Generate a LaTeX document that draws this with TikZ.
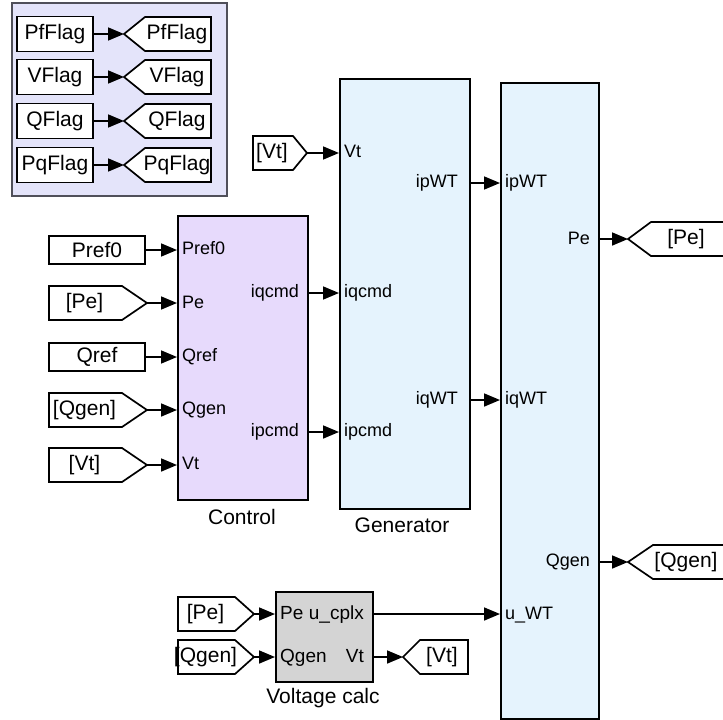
\documentclass[tikz,border=0pt]{standalone}
\usepackage{fontspec}
\setmainfont{Liberation Sans}
\usetikzlibrary{arrows.meta}
\definecolor{grpfill}{RGB}{228,228,250}
\definecolor{grpdraw}{RGB}{80,80,90}
\definecolor{ctrlfill}{RGB}{231,218,252}
\definecolor{genfill}{RGB}{229,243,253}
\definecolor{vcfill}{RGB}{212,212,212}
\newcommand{\FromTag}[6]{%
  \draw[tagbox] (#2,#5-17) -- (#3,#5-17) -- (#4,#5) -- (#3,#5+17) -- (#2,#5+17) -- cycle;
  \node[tagtxt] (#1) at ({(#2+#3)/2-1},#5) {#6};
  \coordinate (#1-tip) at (#4,#5);
}
\newcommand{\GotoTag}[7]{%
  \draw[tagbox] (#2,#5) -- (#3,#5-17) -- (#4,#5-17) -- (#4,#5+17) -- (#3,#5+17) -- cycle;
  \node[tagtxt] (#1) at (#6,#5) {#7};
  \coordinate (#1-tip) at (#2,#5);
}
\begin{document}
\begin{tikzpicture}[x=1pt,y=-1pt,
  blk/.style={draw=black,line width=1.7pt,rectangle,inner sep=0pt,anchor=north west},
  constbox/.style={draw=black,line width=1.7pt,fill=white,rectangle,inner sep=0pt,
     font=\fontsize{21}{24}\selectfont},
  tagbox/.style={draw=black,line width=1.7pt,fill=white,line join=miter},
  tagtxt/.style={inner sep=0pt,font=\fontsize{21}{24}\selectfont},
  inl/.style={inner sep=0pt,anchor=west,font=\fontsize{18}{20}\selectfont,text height=13pt,text depth=4pt},
  outl/.style={inner sep=0pt,anchor=east,font=\fontsize{18}{20}\selectfont,text height=13pt,text depth=4pt},
  vcl/.style={inner sep=0pt,font=\fontsize{19}{21}\selectfont,text height=14pt,text depth=4pt},
  bname/.style={inner sep=0pt,font=\fontsize{21}{24}\selectfont},
  sig/.style={draw=black,line width=1.7pt,-{Triangle[length=16pt,width=13pt]}}
]
\clip (0,0) rectangle (723,720);

% ---------- flag group ----------
\node[draw=grpdraw,line width=1.7pt,fill=grpfill,inner sep=0pt,anchor=north west,
  minimum width=215pt,minimum height=193pt] (grp) at (11,2) {};
\node[constbox,minimum width=76pt,minimum height=35pt] (pf) at (55,34) {PfFlag};
\node[constbox,minimum width=76pt,minimum height=35pt] (vf) at (55,77) {VFlag};
\node[constbox,minimum width=76pt,minimum height=35pt] (qf) at (55,121) {QFlag};
\node[constbox,minimum width=76pt,minimum height=35pt] (pqf) at (55,165) {PqFlag};
\GotoTag{gpf}{124}{145}{211}{34}{177}{PfFlag}
\GotoTag{gvf}{124}{145}{211}{77}{177}{VFlag}
\GotoTag{gqf}{124}{145}{211}{121}{177}{QFlag}
\GotoTag{gpqf}{124}{145}{211}{165}{177}{PqFlag}
\draw[sig] (pf.east) -- (gpf-tip);
\draw[sig] (vf.east) -- (gvf-tip);
\draw[sig] (qf.east) -- (gqf-tip);
\draw[sig] (pqf.east) -- (gpqf-tip);

% ---------- Control ----------
\node[blk,fill=ctrlfill,minimum width=130pt,minimum height=284pt] (ctrl) at (177,215) {};
\node[bname] (ctrlname) at (242,517) {Control};
\node[constbox,minimum width=96pt,minimum height=28pt] (pref) at (97,250) {Pref0};
\node[constbox,minimum width=96pt,minimum height=28pt] (qref) at (97,357) {Qref};
\FromTag{fpe}{49}{122}{147}{303}{[Pe]}
\FromTag{fqgen}{49}{122}{147}{410}{[Qgen]}
\FromTag{fvt}{49}{122}{147}{465}{[Vt]}
\node[inl] (cin1) at (182,250) {Pref0};
\node[inl] (cin2) at (182,304) {Pe};
\node[inl] (cin3) at (182,357) {Qref};
\node[inl] (cin4) at (182,410) {Qgen};
\node[inl] (cin5) at (182,465) {Vt};
\node[outl] (cout1) at (299,293) {iqcmd};
\node[outl] (cout2) at (299,432) {ipcmd};
\draw[sig] (pref.east) -- (ctrl.west |- pref.east);
\draw[sig] (fpe-tip) -- (ctrl.west |- fpe-tip);
\draw[sig] (qref.east) -- (ctrl.west |- qref.east);
\draw[sig] (fqgen-tip) -- (ctrl.west |- fqgen-tip);
\draw[sig] (fvt-tip) -- (ctrl.west |- fvt-tip);

% ---------- Generator ----------
\node[blk,fill=genfill,minimum width=130pt,minimum height=430pt] (gen) at (339,78) {};
\node[bname] (genname) at (402,525) {Generator};
\FromTag{gvt}{253}{293}{307}{153}{[Vt]}
\node[inl] (gin1) at (344,153) {Vt};
\node[inl] (gin2) at (344,293) {iqcmd};
\node[inl] (gin3) at (344,432) {ipcmd};
\node[outl] (gout1) at (458,183) {ipWT};
\node[outl] (gout2) at (458,400) {iqWT};
\draw[sig] (gvt-tip) -- (gen.west |- gvt-tip);
\draw[sig] (ctrl.east |- cout1) -- (gen.west |- cout1);
\draw[sig] (ctrl.east |- cout2) -- (gen.west |- cout2);

% ---------- WT block ----------
\node[blk,fill=genfill,minimum width=98pt,minimum height=636pt] (wt) at (500,82) {};
\node[inl] (win1) at (505,183) {ipWT};
\node[inl] (win2) at (505,400) {iqWT};
\node[inl] (win3) at (505,615) {u\_WT};
\node[outl] (wout1) at (590,240) {Pe};
\node[outl] (wout2) at (590,562) {Qgen};
\draw[sig] (gen.east |- gout1) -- (wt.west |- gout1);
\draw[sig] (gen.east |- gout2) -- (wt.west |- gout2);
\GotoTag{gpe}{628}{651}{770}{239}{686}{[Pe]}
\GotoTag{gqgen}{628}{653}{770}{562}{686}{[Qgen]}
\draw[sig] (wt.east |- gpe-tip) -- (gpe-tip);
\draw[sig] (wt.east |- gqgen-tip) -- (gqgen-tip);

% ---------- Voltage calc ----------
\node[blk,fill=vcfill,minimum width=97pt,minimum height=90pt] (vc) at (275,591) {};
\node[bname] (vcname) at (323,698) {Voltage calc};
\FromTag{vpe}{178}{235}{254}{614}{[Pe]}
\FromTag{vqgen}{178}{235}{254}{657}{[Qgen]}
\GotoTag{vvt}{403}{420}{468}{657}{442}{[Vt]}
\node[vcl,anchor=west] (vin1) at (280,614) {Pe};
\node[vcl,anchor=west] (vin2) at (280,657) {Qgen};
\node[vcl,anchor=east] (vout1) at (364,614) {u\_cplx};
\node[vcl,anchor=east] (vout2) at (364,657) {Vt};
\draw[sig] (vpe-tip) -- (vc.west |- vpe-tip);
\draw[sig] (vqgen-tip) -- (vc.west |- vqgen-tip);
\draw[sig] (vc.east |- vvt-tip) -- (vvt-tip);
\draw[sig] (vc.east |- vout1) -- (wt.west |- vout1);
\end{tikzpicture}
\end{document}
